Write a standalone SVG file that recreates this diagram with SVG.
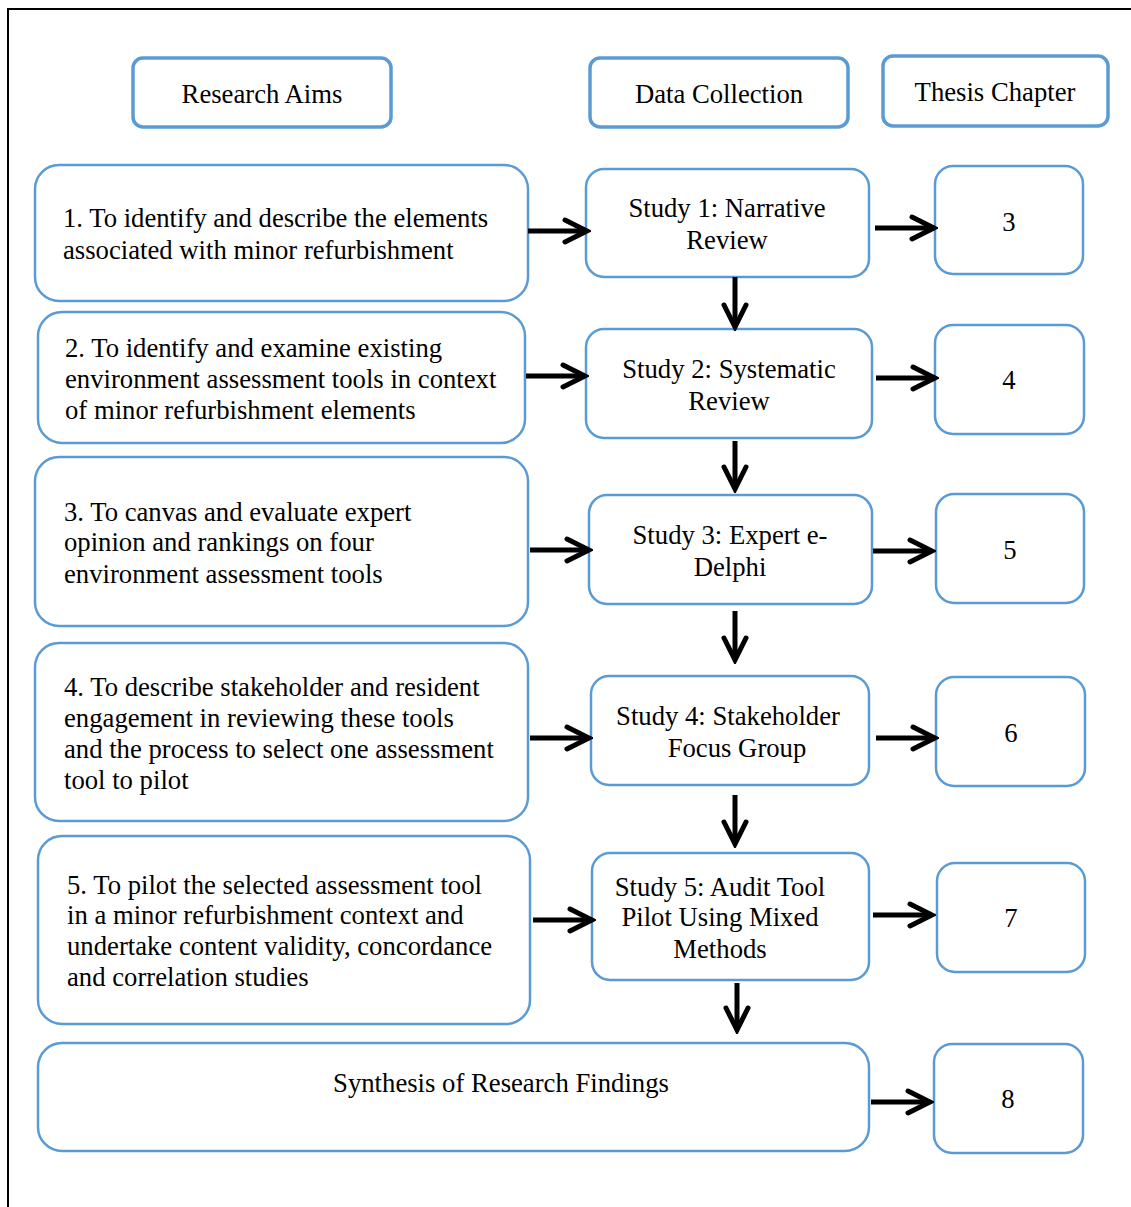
<svg xmlns="http://www.w3.org/2000/svg" width="1131" height="1207" viewBox="0 0 1131 1207">
<defs>
<style>
.hdr{fill:#fff;stroke:#5B9BD5;stroke-width:3.5}
.box{fill:#fff;stroke:#5B9BD5;stroke-width:2.5}
text{font-family:"Liberation Serif","Times New Roman",serif;font-size:26.7px;fill:#000}
.c{text-anchor:middle}
.arr{stroke:#000;stroke-width:5;fill:none}
</style>
<marker id="ah" viewBox="-26 -15 30 30" refX="0" refY="0" markerWidth="30" markerHeight="30" markerUnits="userSpaceOnUse" orient="auto">
<path d="M-22,-11 L0,0 L-22,11" fill="none" stroke="#000" stroke-width="5" stroke-linecap="round" stroke-linejoin="miter"/>
</marker>
</defs>
<rect width="1131" height="1207" fill="#fff"/>
<path d="M8,1207 V9 H1131" fill="none" stroke="#000" stroke-width="2"/>

<g id="h-aims"><rect class="hdr" x="133" y="58" width="258" height="69" rx="10"/><text class="c" x="262" y="103">Research Aims</text></g>
<g id="h-data"><rect class="hdr" x="590" y="58" width="258" height="69" rx="10"/><text class="c" x="719" y="103">Data Collection</text></g>
<g id="h-thesis"><rect class="hdr" x="883" y="56" width="225" height="70" rx="10"/><text class="c" x="995" y="101">Thesis Chapter</text></g>

<g id="aim1"><rect class="box" x="35" y="165" width="493" height="136" rx="24"/>
<text x="63" y="227">1. To identify and describe the elements</text>
<text x="63" y="259">associated with minor refurbishment</text></g>
<g id="aim2"><rect class="box" x="38" y="312" width="487" height="131" rx="24"/>
<text x="65" y="357">2. To identify and examine existing</text>
<text x="65" y="388">environment assessment tools in context</text>
<text x="65" y="419">of minor refurbishment elements</text></g>
<g id="aim3"><rect class="box" x="35" y="457" width="493" height="169" rx="24"/>
<text x="64" y="521">3. To canvas and evaluate expert</text>
<text x="64" y="551">opinion and rankings on four</text>
<text x="64" y="583">environment assessment tools</text></g>
<g id="aim4"><rect class="box" x="35" y="643" width="493" height="178" rx="24"/>
<text x="64" y="696">4. To describe stakeholder and resident</text>
<text x="64" y="727">engagement in reviewing these tools</text>
<text x="64" y="758">and the process to select one assessment</text>
<text x="64" y="789">tool to pilot</text></g>
<g id="aim5"><rect class="box" x="38" y="836" width="492" height="188" rx="24"/>
<text x="67" y="894">5. To pilot the selected assessment tool</text>
<text x="67" y="924">in a minor refurbishment context and</text>
<text x="67" y="955">undertake content validity, concordance</text>
<text x="67" y="986">and correlation studies</text></g>
<g id="synthesis"><rect class="box" x="38" y="1043" width="831" height="108" rx="24"/>
<text class="c" x="501" y="1092">Synthesis of Research Findings</text></g>

<g id="study1"><rect class="box" x="586" y="169" width="283" height="108" rx="18"/>
<text class="c" x="727" y="217">Study 1: Narrative</text><text class="c" x="727" y="249">Review</text></g>
<g id="study2"><rect class="box" x="586" y="329" width="286" height="109" rx="18"/>
<text class="c" x="729" y="378">Study 2: Systematic</text><text class="c" x="729" y="410">Review</text></g>
<g id="study3"><rect class="box" x="589" y="495" width="283" height="109" rx="18"/>
<text class="c" x="730" y="544">Study 3: Expert e-</text><text class="c" x="730" y="576">Delphi</text></g>
<g id="study4"><rect class="box" x="591" y="676" width="278" height="109" rx="18"/>
<text class="c" x="728" y="725">Study 4: Stakeholder</text><text class="c" x="737" y="757">Focus Group</text></g>
<g id="study5"><rect class="box" x="592" y="853" width="277" height="127" rx="18"/>
<text class="c" x="720" y="896">Study 5: Audit Tool</text><text class="c" x="720" y="926">Pilot Using Mixed</text><text class="c" x="720" y="958">Methods</text></g>

<g id="ch3"><rect class="box" x="935" y="166" width="148" height="108" rx="18"/><text class="c" x="1009" y="231">3</text></g>
<g id="ch4"><rect class="box" x="935" y="325" width="149" height="109" rx="18"/><text class="c" x="1009" y="389">4</text></g>
<g id="ch5"><rect class="box" x="936" y="494" width="148" height="109" rx="18"/><text class="c" x="1010" y="559">5</text></g>
<g id="ch6"><rect class="box" x="936" y="677" width="149" height="109" rx="18"/><text class="c" x="1011" y="742">6</text></g>
<g id="ch7"><rect class="box" x="937" y="863" width="148" height="109" rx="18"/><text class="c" x="1011" y="927">7</text></g>
<g id="ch8"><rect class="box" x="934" y="1044" width="149" height="109" rx="18"/><text class="c" x="1008" y="1108">8</text></g>

<g id="connectors">
<path class="arr" marker-end="url(#ah)" d="M528,231 H587"/>
<path class="arr" marker-end="url(#ah)" d="M526,376 H585"/>
<path class="arr" marker-end="url(#ah)" d="M530,550 H589"/>
<path class="arr" marker-end="url(#ah)" d="M530,738 H589"/>
<path class="arr" marker-end="url(#ah)" d="M533,920 H592"/>
<path class="arr" marker-end="url(#ah)" d="M875,228 H934"/>
<path class="arr" marker-end="url(#ah)" d="M876,378 H935"/>
<path class="arr" marker-end="url(#ah)" d="M873,551 H932"/>
<path class="arr" marker-end="url(#ah)" d="M876,738 H935"/>
<path class="arr" marker-end="url(#ah)" d="M873,915 H932"/>
<path class="arr" marker-end="url(#ah)" d="M871,1102 H930"/>
<path class="arr" marker-end="url(#ah)" d="M735,277 V327"/>
<path class="arr" marker-end="url(#ah)" d="M735,441 V489"/>
<path class="arr" marker-end="url(#ah)" d="M735,611 V660"/>
<path class="arr" marker-end="url(#ah)" d="M735,795 V844"/>
<path class="arr" marker-end="url(#ah)" d="M737,983 V1030"/>
</g>
</svg>
